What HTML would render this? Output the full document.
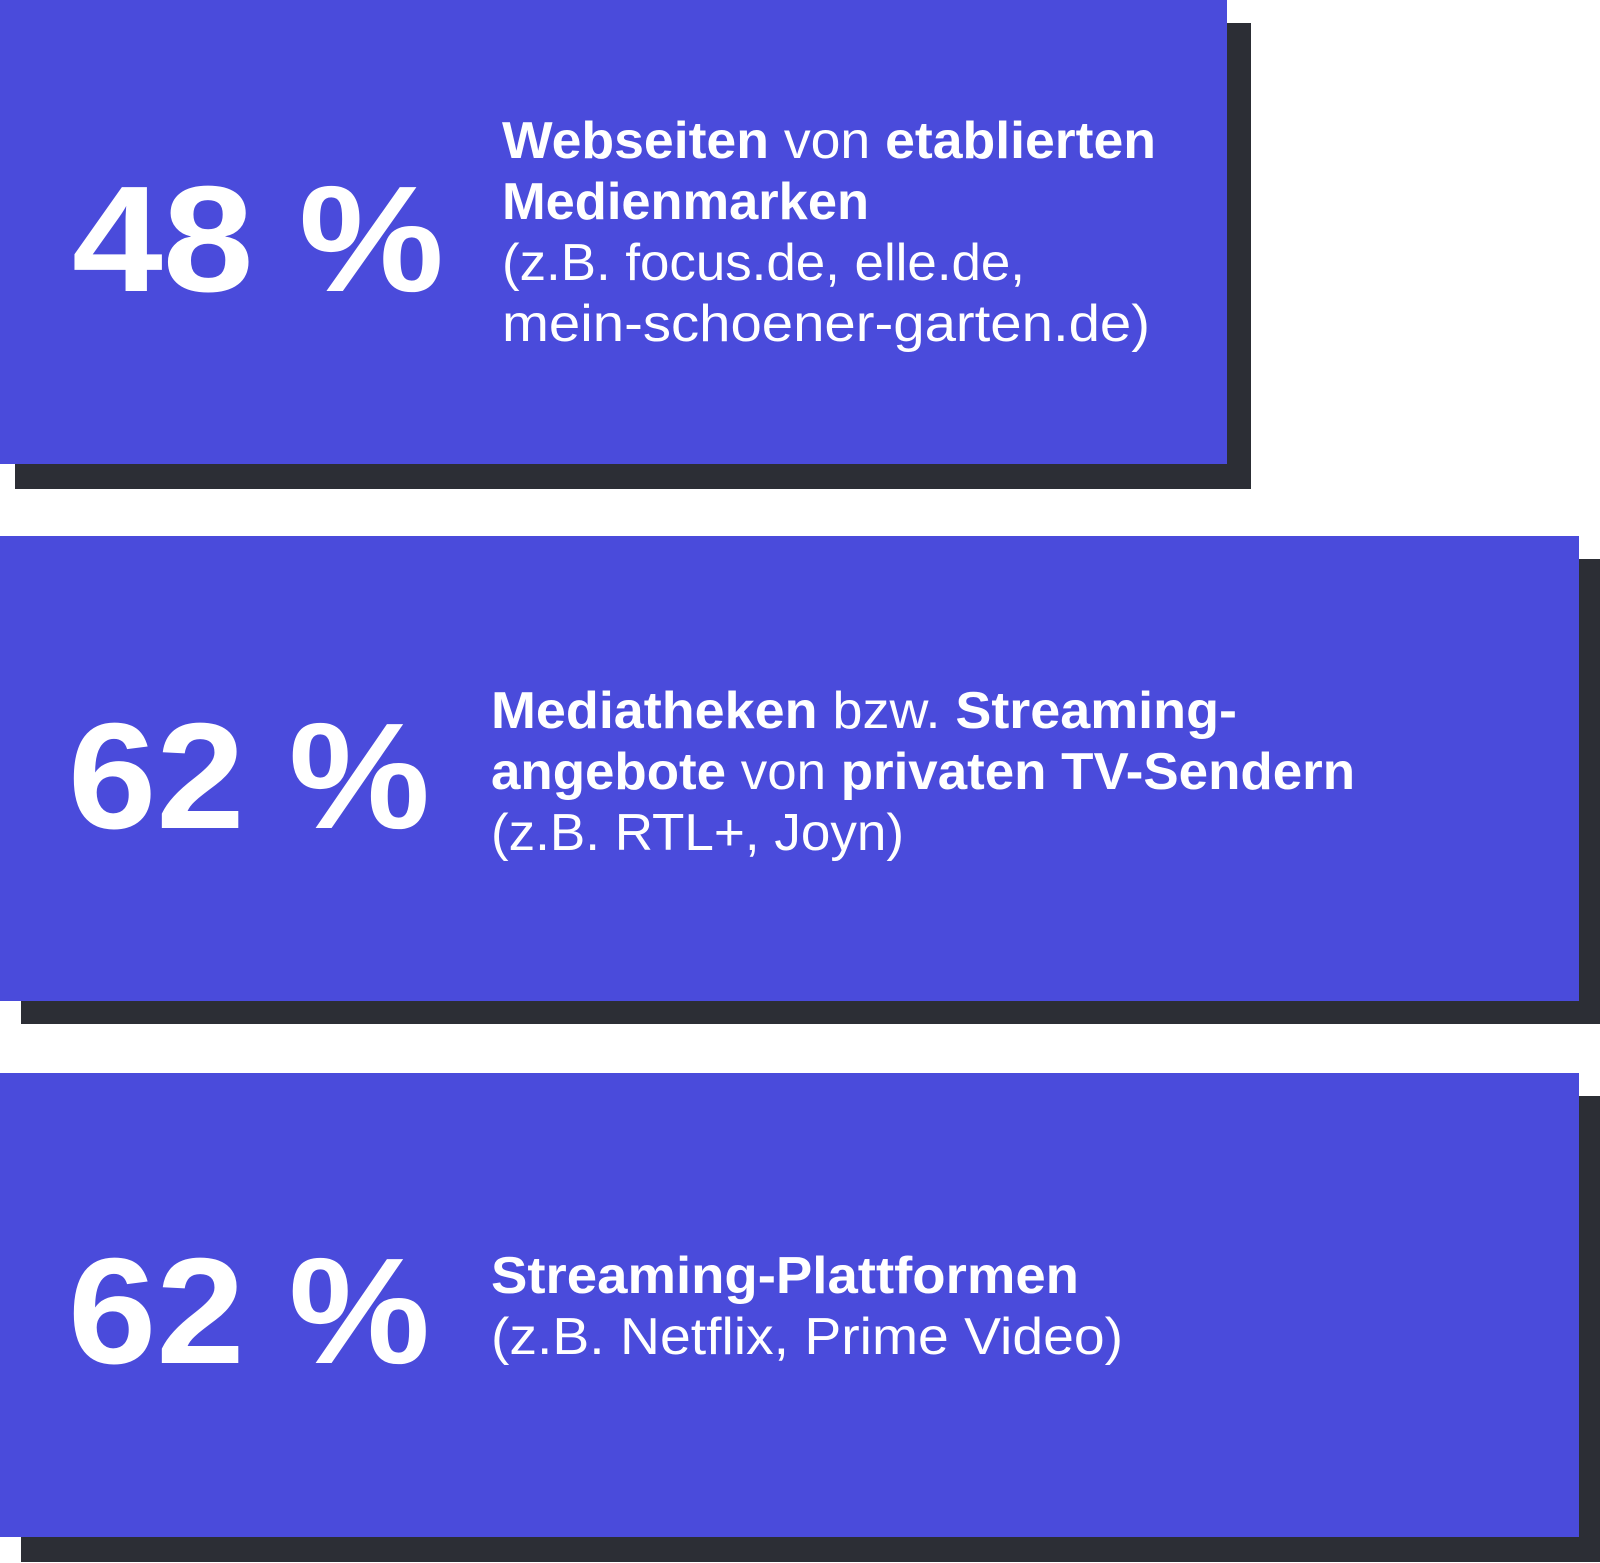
<!DOCTYPE html>
<html>
<head>
<meta charset="utf-8">
<style>
  html, body { margin: 0; padding: 0; background: #ffffff; }
  body { width: 1600px; height: 1563px; overflow: hidden; }
  svg { display: block; }
  .big { font-family: "Liberation Sans", sans-serif; font-weight: 700; font-size: 151px; fill: #ffffff; }
  .t { font-family: "Liberation Sans", sans-serif; font-size: 52px; fill: #ffffff; font-weight: 400; }
  .b { font-weight: 700; }
</style>
</head>
<body>
<svg width="1600" height="1563" viewBox="0 0 1600 1563" xmlns="http://www.w3.org/2000/svg">
  <!-- Box 1 -->
  <rect x="15" y="23" width="1236" height="466" fill="#2c2e35"/>
  <rect x="0" y="0" width="1227" height="464" fill="#4a4bdb"/>
  <text class="big" x="72" y="291" textLength="372" lengthAdjust="spacingAndGlyphs">48 %</text>
  <text class="t" x="502" y="158" textLength="654" lengthAdjust="spacingAndGlyphs"><tspan class="b">Webseiten</tspan> von <tspan class="b">etablierten</tspan></text>
  <text class="t b" x="502" y="219" textLength="367" lengthAdjust="spacingAndGlyphs">Medienmarken</text>
  <text class="t" x="502" y="280" textLength="523" lengthAdjust="spacingAndGlyphs">(z.B. focus.de, elle.de,</text>
  <text class="t" x="502" y="341" textLength="648" lengthAdjust="spacingAndGlyphs">mein-schoener-garten.de)</text>

  <!-- Box 2 -->
  <rect x="21" y="559" width="1579" height="465" fill="#2c2e35"/>
  <rect x="0" y="536" width="1579" height="465" fill="#4a4bdb"/>
  <text class="big" x="68" y="828" textLength="362" lengthAdjust="spacingAndGlyphs">62 %</text>
  <text class="t" x="491" y="728" textLength="746" lengthAdjust="spacingAndGlyphs"><tspan class="b">Mediatheken</tspan> bzw. <tspan class="b">Streaming-</tspan></text>
  <text class="t" x="491" y="789" textLength="864" lengthAdjust="spacingAndGlyphs"><tspan class="b">angebote</tspan> von <tspan class="b">privaten TV-Sendern</tspan></text>
  <text class="t" x="491" y="850" textLength="413" lengthAdjust="spacingAndGlyphs">(z.B. RTL+, Joyn)</text>

  <!-- Box 3 -->
  <rect x="21" y="1096" width="1579" height="466" fill="#2c2e35"/>
  <rect x="0" y="1073" width="1579" height="464" fill="#4a4bdb"/>
  <text class="big" x="68" y="1363" textLength="362" lengthAdjust="spacingAndGlyphs">62 %</text>
  <text class="t b" x="491" y="1293" textLength="588" lengthAdjust="spacingAndGlyphs">Streaming-Plattformen</text>
  <text class="t" x="491" y="1354" textLength="632" lengthAdjust="spacingAndGlyphs">(z.B. Netflix, Prime Video)</text>
</svg>
</body>
</html>
